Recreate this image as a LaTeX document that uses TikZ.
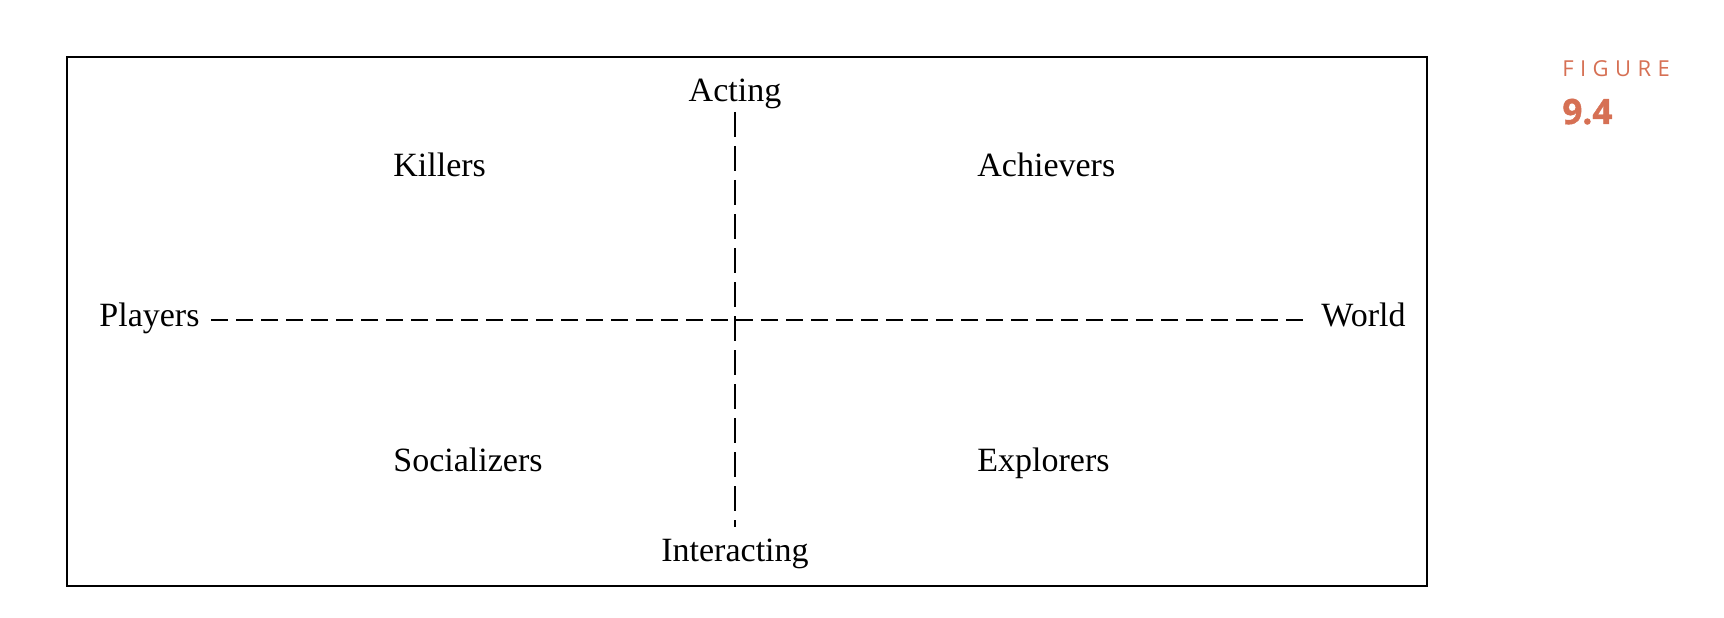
\documentclass[tikz,border=0pt]{standalone}
\usepackage{fontspec}
\setmainfont{Liberation Serif}
\newfontfamily\figfont[BoldFeatures={FakeBold=1.2}]{Open Sans}
\definecolor{figorange}{RGB}{214,112,84}
\begin{document}
\begin{tikzpicture}[x=0.5bp,y=-0.5bp,
  lbl/.style={inner sep=0pt, font=\fontsize{17bp}{19bp}\selectfont},
  hdash/.style={line width=1bp, dash pattern=on 8.5bp off 4bp},
  vdash/.style={line width=1bp, dash pattern=on 12.5bp off 4.5bp}]
\useasboundingbox (0,0) rectangle (1724,618);
\draw[line width=1bp] (67,57) rectangle (1427,586);
% axis labels
\node[lbl, anchor=base] (acting) at (735,102) {Acting};
\node[lbl, anchor=base] (interacting) at (735,561) {Interacting};
\node[lbl, anchor=base west] (players) at (99,327) {Players};
\node[lbl, anchor=base east] (world) at (1406,327) {World};
% quadrant labels
\node[lbl, anchor=base west] (killers) at (393,177) {Killers};
\node[lbl, anchor=base west] (achievers) at (977,177) {Achievers};
\node[lbl, anchor=base west] (socializers) at (393,471) {Socializers};
\node[lbl, anchor=base west] (explorers) at (977,471) {Explorers};
% axes
\coordinate (hl) at (211,320);
\coordinate (hr) at (1304,320);
\draw[hdash] (hl) -- (hr);
\coordinate (vt) at (735,112);
\coordinate (vb) at (735,527);
\draw[vdash] (vt) -- (vb);
% figure label
\node[inner sep=0pt, anchor=base west, text=figorange,
  font=\figfont\fontsize{11bp}{12bp}\selectfont] (figlabel) at (1562,77)
  {F\hspace{3.2bp}I\hspace{3.2bp}G\hspace{3.2bp}U\hspace{3.2bp}R\hspace{3.2bp}E};
\node[inner sep=0pt, anchor=base west, text=figorange,
  font=\figfont\bfseries\fontsize{17.5bp}{20bp}\selectfont] (fignum) at (1562,124) {9.4};
\end{tikzpicture}
\end{document}
